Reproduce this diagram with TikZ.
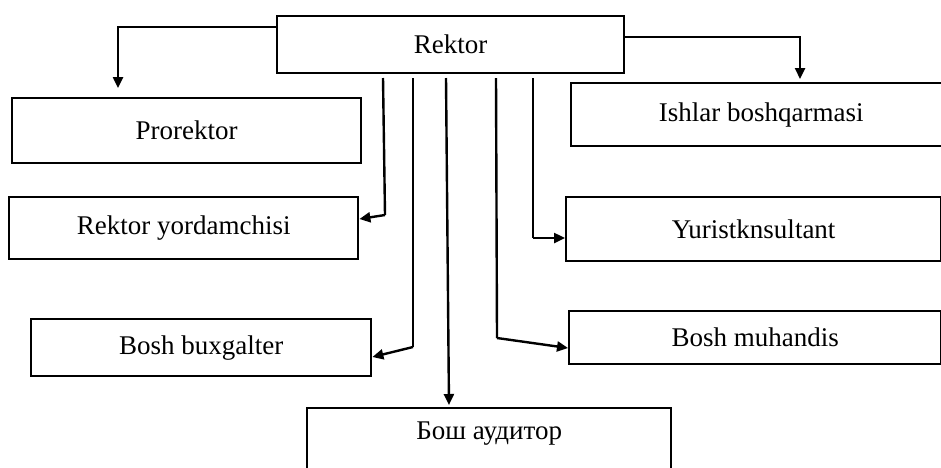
\documentclass[tikz,border=0pt]{standalone}
\usepackage{fontspec}
\setmainfont{Liberation Serif}
\usetikzlibrary{arrows.meta}
\begin{document}
\begin{tikzpicture}[x=1pt,y=-1pt,
  box/.style={draw, line width=2.4pt, rectangle, anchor=north west, inner sep=0pt,
              font=\fontsize{27}{30}\selectfont},
  lbl/.style={font=\fontsize{27}{30}\selectfont, inner sep=0pt},
  link/.style={line width=2.4pt},
  arr/.style={line width=2.4pt, -{Triangle[length=11pt,width=10pt]}}]
\useasboundingbox (0,0) rectangle (941,467);
\fill[white] (0,0) rectangle (941,467);
\clip (0,0) rectangle (941,467);

% boxes
\node[box, minimum width=347pt, minimum height=57pt] (rektor) at (276,15) {Rektor};
\node[box, minimum width=349pt, minimum height=65pt] (pro) at (11,97) {Prorektor};
\node[box, minimum width=349pt, minimum height=62pt] (yord) at (8,196) {Rektor yordamchisi};
\node[box, minimum width=340pt, minimum height=57pt] (bux) at (30,318) {Bosh buxgalter};
\node[box, minimum width=364pt, minimum height=72pt] (aud) at (306,407) {};
\node[lbl] (audt) at ([yshift=-27pt]aud.north) {Бош аудитор};
\node[box, minimum width=380pt, minimum height=63pt] (ish) at (570,82) {Ishlar boshqarmasi};
\node[box, minimum width=375pt, minimum height=64pt] (yur) at (565,196) {Yuristknsultant};
\node[box, minimum width=372pt, minimum height=53pt] (muh) at (568,310) {Bosh muhandis};

% side branches from the top box
\coordinate (pl) at (118,27);
\draw[arr, shorten >=9pt] (pl -| rektor.west) -- (pl) -- (pl |- pro.north);
\coordinate (pr) at (800,37);
\draw[arr, shorten >=3pt] (pr -| rektor.east) -- (pr) -- (pr |- ish.north);

% vertical branches below the top box
\coordinate (t1) at (383,78);
\coordinate (b1) at (385,215);
\draw[link] (t1) -- (b1);
\draw[arr] (b1) -- ([yshift=-4pt]b1 -| yord.east);

\coordinate (t2) at (413,78);
\coordinate (b2) at (413,347);
\draw[link] (t2) -- (b2);
\draw[arr] (b2) -- ([yshift=-10pt]b2 -| bux.east);

\coordinate (t3) at (446,78);
\coordinate (b3) at (449,400);
\draw[arr, shorten >=2pt] (t3) -- (b3 |- aud.north);

\coordinate (t4) at (496,78);
\coordinate (b4) at (497,338);
\draw[link] (t4) -- (b4);
\draw[arr] (b4) -- ([yshift=-10pt]b4 -| muh.west);

\coordinate (t5) at (533,78);
\coordinate (b5) at (533,238);
\draw[link] (t5) -- (b5);
\draw[arr] (b5) -- (b5 -| yur.west);
\end{tikzpicture}
\end{document}
